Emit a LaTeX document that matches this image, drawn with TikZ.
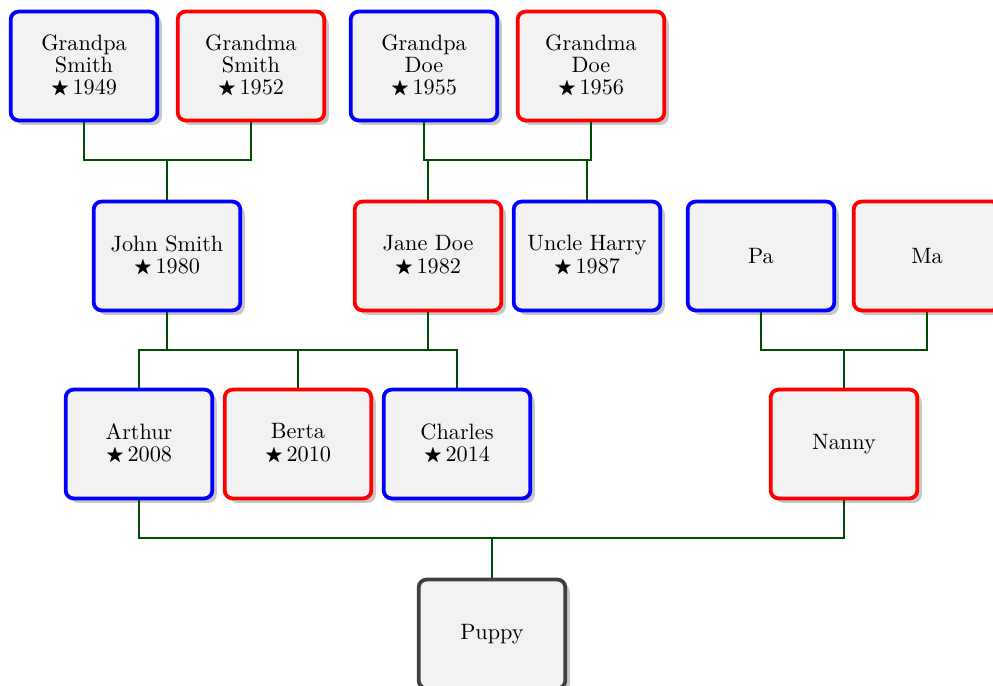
\documentclass[tikz,border=0pt]{standalone}
\usepackage{amssymb}
\usepackage{tikz}
\usetikzlibrary{shadows}
\newcommand{\born}{\raisebox{0.05ex}{\scalebox{0.85}{$\bigstar$}}\,}
\tikzset{
  person/.style={draw, fill=gray!10, rounded corners=3.6pt, line width=1.7pt, align=center,
    minimum width=66pt, minimum height=49pt, inner sep=2pt, font=\fontsize{10}{10}\selectfont,
    drop shadow={shadow xshift=2pt, shadow yshift=-2pt, fill=black!40, opacity=0.55}},
  malebox/.style={person, draw=blue},
  femalebox/.style={person, draw=red},
  neutralbox/.style={person, draw=black!75},
  famline/.style={draw=green!30!black, line width=0.95pt}
}
\begin{document}
\begin{tikzpicture}[x=0.45pt,y=-0.45pt]
\useasboundingbox (0,0) rectangle (993,686);
% grandparents
\node[malebox] (gps) at (84,66) {Grandpa\\Smith\\\born 1949};
\node[femalebox] (gms) at (251,66) {Grandma\\Smith\\\born 1952};
\node[malebox] (gpd) at (424,66) {Grandpa\\Doe\\\born 1955};
\node[femalebox] (gmd) at (591,66) {Grandma\\Doe\\\born 1956};
% parents
\node[malebox] (john) at (167,256) {John Smith\\\born 1980};
\node[femalebox] (jane) at (428,256) {Jane Doe\\\born 1982};
\node[malebox] (harry) at (587,256) {Uncle Harry\\\born 1987};
\node[malebox] (pa) at (761,256) {Pa};
\node[femalebox] (ma) at (927,256) {Ma};
% children
\node[malebox] (arthur) at (139,444) {Arthur\\\born 2008};
\node[femalebox] (berta) at (298,444) {Berta\\\born 2010};
\node[malebox] (charles) at (457,444) {Charles\\\born 2014};
\node[femalebox] (nanny) at (844,444) {Nanny};
\node[neutralbox] (puppy) at (492,634) {Puppy};
% family junctions
\coordinate (smith) at (167,160);
\coordinate (doe) at (507,160);
\coordinate (smithdoe) at (298,350);
\coordinate (pama) at (844,350);
\coordinate (last) at (492,538);
\draw[famline] (gps.south) |- (smith) -| (gms.south);
\draw[famline] (smith) -- (john.north);
\draw[famline] (gpd.south) |- (doe) -| (gmd.south);
\draw[famline] (jane.north) |- (doe) -| (harry.north);
\draw[famline] (john.south) |- (smithdoe) -| (jane.south);
\draw[famline] (arthur.north) |- (smithdoe) -| (charles.north);
\draw[famline] (smithdoe) -- (berta.north);
\draw[famline] (pa.south) |- (pama) -| (ma.south);
\draw[famline] (pama) -- (nanny.north);
\draw[famline] (arthur.south) |- (last) -| (nanny.south);
\draw[famline] (last) -- (puppy.north);
\end{tikzpicture}
\end{document}
